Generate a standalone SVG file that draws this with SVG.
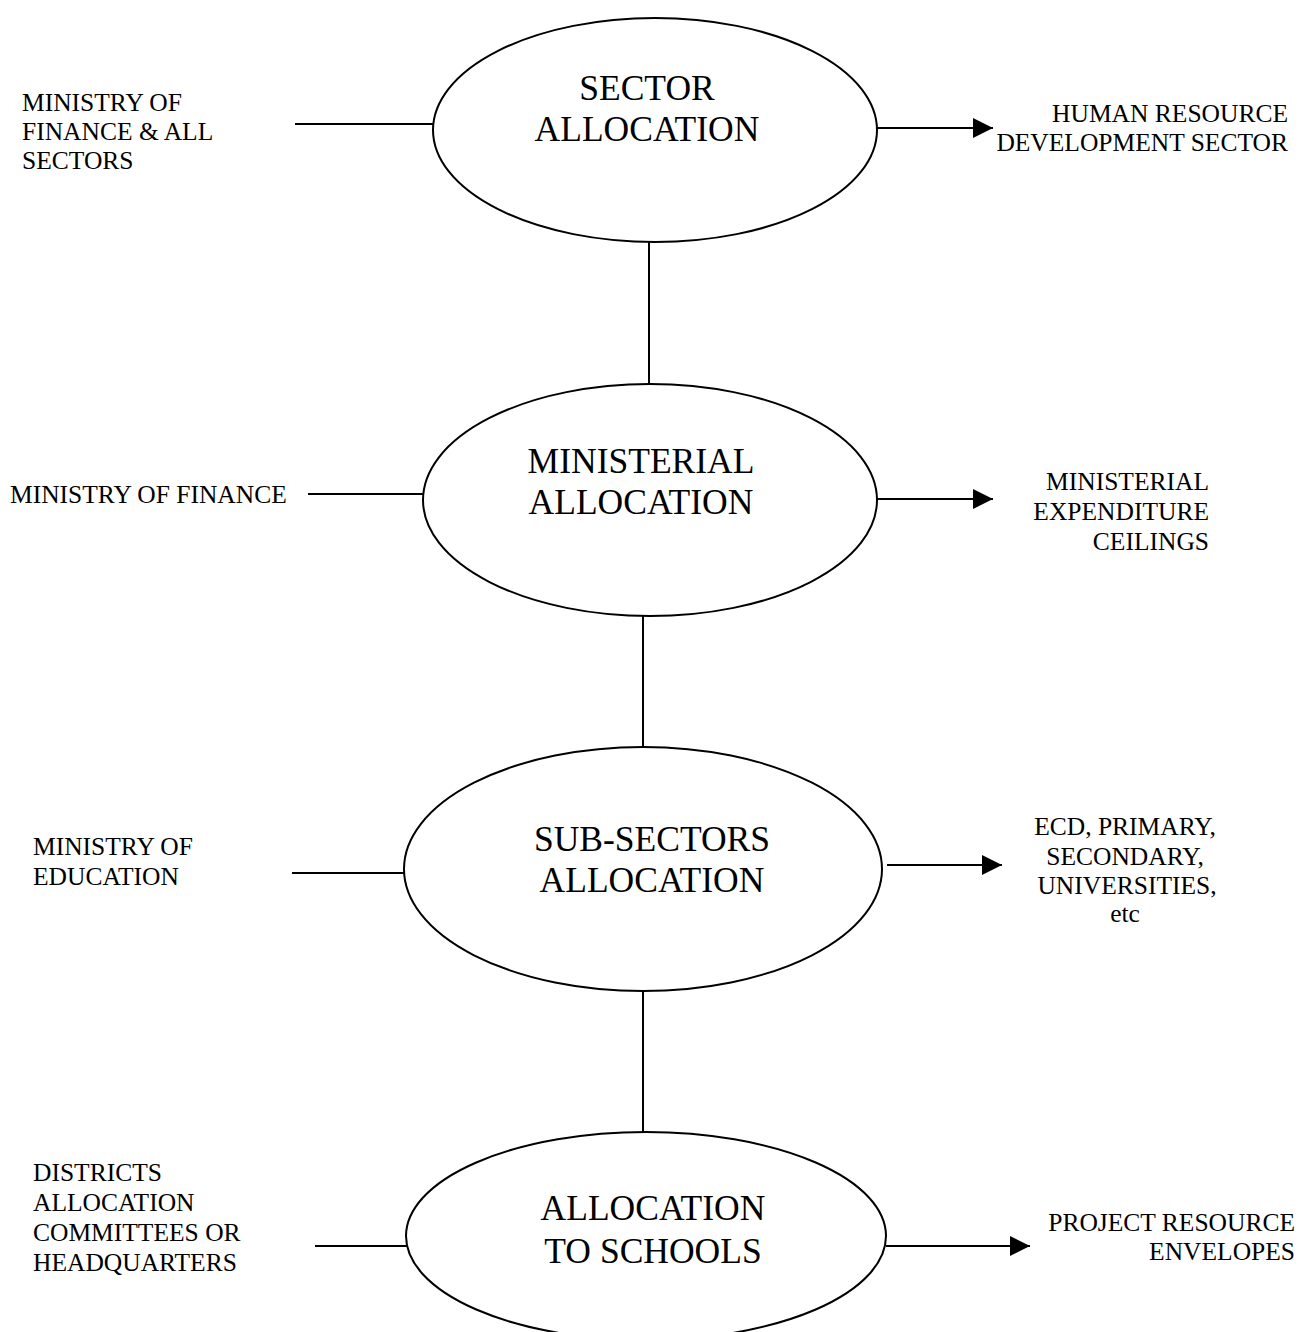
<svg xmlns="http://www.w3.org/2000/svg" width="1316" height="1332" viewBox="0 0 1316 1332">
<style>
  .bg { fill: #ffffff; }
  .node ellipse { fill: #ffffff; stroke: #000000; stroke-width: 2; }
  .big { font-family: "Liberation Serif", "Times New Roman", serif; font-size: 35.5px; fill: #000000; text-anchor: middle; }
  .lbl { font-family: "Liberation Serif", "Times New Roman", serif; font-size: 25.5px; fill: #000000; }
  .end { text-anchor: end; }
  .mid { text-anchor: middle; }
  .conn line { stroke: #000000; stroke-width: 2; fill: none; }
</style>
<defs>
  <marker id="arrow" viewBox="0 0 20 20" refX="20" refY="10" markerWidth="20" markerHeight="20" markerUnits="userSpaceOnUse" orient="auto">
    <path d="M0,0 L20,10 L0,20 Z" fill="#000000"/>
  </marker>
</defs>
<rect class="bg" x="0" y="0" width="1316" height="1332"/>

<g id="connectors" class="conn">
  <line x1="295" y1="124" x2="433" y2="124"/>
  <line x1="877" y1="128" x2="993" y2="128" marker-end="url(#arrow)"/>
  <line x1="649" y1="242" x2="649" y2="385"/>
  <line x1="308" y1="494" x2="423" y2="494"/>
  <line x1="876" y1="499" x2="993" y2="499" marker-end="url(#arrow)"/>
  <line x1="643" y1="616" x2="643" y2="747"/>
  <line x1="292" y1="873" x2="410" y2="873"/>
  <line x1="887" y1="865" x2="1002" y2="865" marker-end="url(#arrow)"/>
  <line x1="643" y1="992" x2="643" y2="1132"/>
  <line x1="315" y1="1246" x2="407" y2="1246"/>
  <line x1="886" y1="1246" x2="1030" y2="1246" marker-end="url(#arrow)"/>
</g>

<g id="node-sector">
  <g class="node"><ellipse cx="655" cy="130" rx="222" ry="112"/></g>
  <text class="big" x="647" y="100">SECTOR</text>
  <text class="big" x="647" y="141">ALLOCATION</text>
</g>
<g id="node-ministerial">
  <g class="node"><ellipse cx="650" cy="500" rx="227" ry="116"/></g>
  <text class="big" x="641" y="473">MINISTERIAL</text>
  <text class="big" x="641" y="514">ALLOCATION</text>
</g>
<g id="node-subsectors">
  <g class="node"><ellipse cx="643" cy="869" rx="239" ry="122"/></g>
  <text class="big" x="652" y="851">SUB-SECTORS</text>
  <text class="big" x="652" y="892">ALLOCATION</text>
</g>
<g id="node-schools">
  <g class="node"><ellipse cx="646" cy="1236" rx="240" ry="104"/></g>
  <text class="big" x="653" y="1220">ALLOCATION</text>
  <text class="big" x="653" y="1263">TO SCHOOLS</text>
</g>

<g id="label-mof-all">
  <text class="lbl" x="22" y="111">MINISTRY OF</text>
  <text class="lbl" x="22" y="140">FINANCE &amp; ALL</text>
  <text class="lbl" x="22" y="169">SECTORS</text>
</g>
<g id="label-hrd">
  <text class="lbl end" x="1288" y="122">HUMAN RESOURCE</text>
  <text class="lbl end" x="1288" y="151">DEVELOPMENT SECTOR</text>
</g>
<g id="label-mof">
  <text class="lbl" x="10" y="503">MINISTRY OF FINANCE</text>
</g>
<g id="label-ceilings">
  <text class="lbl end" x="1209" y="490">MINISTERIAL</text>
  <text class="lbl end" x="1209" y="520">EXPENDITURE</text>
  <text class="lbl end" x="1209" y="550">CEILINGS</text>
</g>
<g id="label-moe">
  <text class="lbl" x="33" y="855">MINISTRY OF</text>
  <text class="lbl" x="33" y="885">EDUCATION</text>
</g>
<g id="label-subsectors">
  <text class="lbl mid" x="1125" y="835">ECD, PRIMARY,</text>
  <text class="lbl mid" x="1125" y="865">SECONDARY,</text>
  <text class="lbl mid" x="1127" y="894">UNIVERSITIES,</text>
  <text class="lbl mid" x="1125" y="922">etc</text>
</g>
<g id="label-districts">
  <text class="lbl" x="33" y="1181">DISTRICTS</text>
  <text class="lbl" x="33" y="1211">ALLOCATION</text>
  <text class="lbl" x="33" y="1241">COMMITTEES OR</text>
  <text class="lbl" x="33" y="1271">HEADQUARTERS</text>
</g>
<g id="label-envelopes">
  <text class="lbl end" x="1295" y="1231">PROJECT RESOURCE</text>
  <text class="lbl end" x="1295" y="1260">ENVELOPES</text>
</g>
</svg>
